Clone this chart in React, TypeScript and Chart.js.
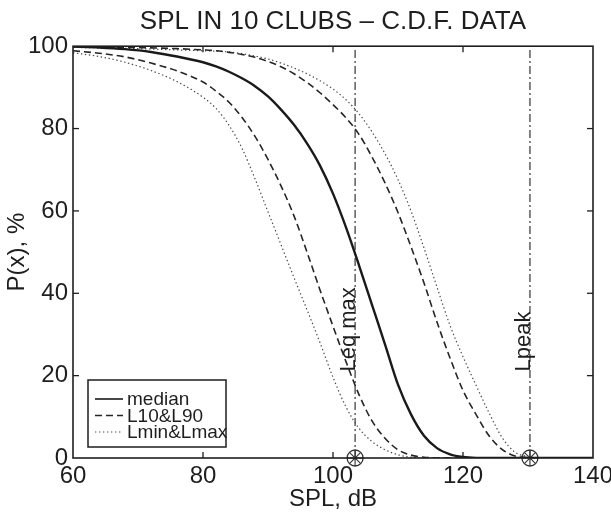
import React, { useEffect, useRef } from 'react';
import { Chart, registerables } from 'chart.js';

Chart.register(...registerables);

const FONT = '"Liberation Sans", Arial, Helvetica, sans-serif';
const INK = '#1e1e1e';

const titleText = 'SPL IN 10 CLUBS – C.D.F. DATA';
const xTitle = 'SPL, dB';
const yTitle = 'P(x), %';

// SPL grid, dB
const splGrid = [60, 64, 68, 72, 76, 80, 82, 84, 86, 88, 90, 92, 94, 96, 98, 100, 102, 104, 106, 108, 110, 112, 114, 116, 118, 120, 122, 124, 126, 128, 130, 132, 136, 140];

// P(x), % for each curve
const medianPct = [99.9, 99.7, 99.3, 98.6, 97.5, 96.1, 95.1, 93.8, 92.2, 90.3, 87.8, 84.6, 80.9, 76.4, 71.0, 64.2, 56.0, 46.8, 37.2, 27.6, 17.8, 10.6, 5.4, 2.4, 0.9, 0.25, 0.03, 0, 0, 0, 0, 0, 0, 0];
const l10Pct = [98.9, 98.3, 97.4, 95.9, 94.0, 91.3, 89.1, 86.4, 82.7, 78.1, 72.5, 66.1, 58.8, 50.0, 40.8, 32.0, 23.4, 15.4, 9.0, 4.8, 2.0, 0.7, 0.2, 0, 0, 0, 0, 0, 0, 0, 0, 0, 0, 0];
const l90Pct = [99.9, 99.8, 99.7, 99.6, 99.4, 99.1, 98.9, 98.5, 98.0, 97.3, 96.3, 95.0, 93.3, 91.2, 88.7, 85.8, 82.6, 78.6, 73.1, 66.8, 59.6, 51.3, 42.5, 33.0, 24.3, 16.4, 10.6, 5.4, 2.1, 0.5, 0.1, 0, 0, 0];
const lminPct = [98.4, 97.5, 96.1, 94.1, 91.4, 87.6, 84.9, 80.8, 75.2, 67.8, 59.8, 51.8, 43.8, 36.0, 28.0, 19.6, 12.4, 7.2, 4.0, 2.0, 0.8, 0.2, 0, 0, 0, 0, 0, 0, 0, 0, 0, 0, 0, 0];
const lmaxPct = [99.7, 99.6, 99.5, 99.3, 99.1, 98.9, 98.8, 98.6, 98.2, 97.6, 96.9, 95.9, 94.7, 93.3, 91.6, 89.6, 87.0, 83.6, 79.2, 73.9, 67.6, 60.0, 51.0, 41.5, 32.2, 24.6, 17.7, 11.0, 5.0, 1.4, 0.4, 0, 0, 0];

// reference levels
const refLineX = [103.4, 130.3];
const refLineLabels = ['Leq max', 'Lpeak'];
const refLabelStart = 21;
const refLineSpan = [0, 100];

const legendLabels = ['median', 'L10&L90', 'Lmin&Lmax'];

const xRange = [60, 140];
const yRange = [0, 100];
const xStep = 20;
const yStep = 20;

const toPts = (ys: number[]) => splGrid.map((x, i) => ({ x, y: ys[i] }));

const solidStyle = { borderColor: '#1a1a1a', borderWidth: 2.4, borderDash: [] as number[] };
const dashStyle = { borderColor: '#262626', borderWidth: 1.6, borderDash: [7, 4] };
const dotStyle = { borderColor: '#4a4a4a', borderWidth: 1.2, borderDash: [1.4, 2.6] };

const framePlugin = {
  id: 'frame',
  afterDatasetsDraw(chart: any) {
    const { ctx, chartArea: ca, scales } = chart;
    const xs = scales.x;
    const ys = scales.y;
    ctx.save();
    ctx.strokeStyle = INK;
    ctx.lineWidth = 1.6;
    ctx.setLineDash([]);
    ctx.strokeRect(ca.left, ca.top, ca.right - ca.left, ca.bottom - ca.top);
    const tl = 6;
    ctx.lineWidth = 1.3;
    const seg = (a: number, b: number, c: number, d: number) => {
      ctx.beginPath();
      ctx.moveTo(a, b);
      ctx.lineTo(c, d);
      ctx.stroke();
    };
    xs.ticks.forEach((t: any) => {
      if (t.value <= xs.min || t.value >= xs.max) return;
      const px = xs.getPixelForValue(t.value);
      seg(px, ca.bottom, px, ca.bottom - tl);
      seg(px, ca.top, px, ca.top + tl);
    });
    ys.ticks.forEach((t: any) => {
      if (t.value <= ys.min || t.value >= ys.max) return;
      const py = ys.getPixelForValue(t.value);
      seg(ca.left, py, ca.left + tl, py);
      seg(ca.right, py, ca.right - tl, py);
    });

    // rotated labels of reference lines
    ctx.fillStyle = INK;
    ctx.font = `22px ${FONT}`;
    ctx.textAlign = 'left';
    ctx.textBaseline = 'alphabetic';
    refLineX.forEach((v, i) => {
      const px = xs.getPixelForValue(v);
      const py = ys.getPixelForValue(refLabelStart);
      ctx.save();
      ctx.translate(px, py);
      ctx.rotate(-Math.PI / 2);
      ctx.fillText(refLineLabels[i], 0, 0);
      ctx.restore();
    });

    // legend
    const lx = ca.left + 15;
    const ly = ca.bottom - 78;
    const lw = 138;
    const lh = 67;
    ctx.fillStyle = '#ffffff';
    ctx.fillRect(lx, ly, lw, lh);
    ctx.lineWidth = 1.5;
    ctx.strokeStyle = INK;
    ctx.strokeRect(lx, ly, lw, lh);
    const styles = [solidStyle, dashStyle, dotStyle];
    ctx.font = `19px ${FONT}`;
    ctx.fillStyle = INK;
    legendLabels.forEach((lab, i) => {
      const base = ly + 25 + i * 16.5;
      const st = styles[i];
      ctx.strokeStyle = st.borderColor;
      ctx.lineWidth = Math.min(st.borderWidth, 1.6);
      ctx.setLineDash(st.borderDash);
      seg(lx + 7, base - 6, lx + 35, base - 6);
      ctx.setLineDash([]);
      ctx.fillText(lab, lx + 39, base);
    });
    ctx.restore();
  },
};

export default function App() {
  const ref = useRef<HTMLCanvasElement | null>(null);
  useEffect(() => {
    if (!ref.current) return;
    const curve = (label: string, ys: number[], st: any) => ({
      label,
      data: toPts(ys),
      showLine: true,
      pointRadius: 0,
      fill: false,
      cubicInterpolationMode: 'monotone' as const,
      ...st,
    });
    const refLine = (x: number, i: number) => ({
      label: refLineLabels[i],
      data: refLineSpan.map((y) => ({ x, y })),
      showLine: true,
      pointRadius: 0,
      borderColor: '#333333',
      borderWidth: 1.2,
      borderDash: [8, 3, 2, 3],
      tension: 0,
    });
    const chart = new Chart(ref.current, {
      type: 'scatter',
      data: {
        datasets: [
          curve('median', medianPct, solidStyle),
          curve('L10', l10Pct, dashStyle),
          curve('L90', l90Pct, dashStyle),
          curve('Lmin', lminPct, dotStyle),
          curve('Lmax', lmaxPct, dotStyle),
          ...refLineX.map(refLine),
          {
            label: 'markers-circle',
            data: refLineX.map((x) => ({ x, y: 0 })),
            pointStyle: 'circle',
            pointRadius: 8,
            borderColor: '#333333',
            backgroundColor: 'rgba(0,0,0,0)',
            borderWidth: 1.3,
            clip: false,
          },
          {
            label: 'markers-star',
            data: refLineX.map((x) => ({ x, y: 0 })),
            pointStyle: 'star',
            pointRadius: 8,
            borderColor: '#333333',
            backgroundColor: 'rgba(0,0,0,0)',
            borderWidth: 1.1,
            clip: false,
          },
        ] as any,
      },
      options: {
        animation: false,
        responsive: false,
        devicePixelRatio: 1,
        layout: { padding: { left: 0, right: 18, top: 0, bottom: 0 } },
        plugins: {
          legend: { display: false },
          tooltip: { enabled: false },
          title: {
            display: true,
            text: titleText,
            color: INK,
            font: { family: FONT, size: 26, weight: 'normal' },
            padding: { top: 6, bottom: 9 },
            fullSize: false,
          },
        },
        scales: {
          x: {
            type: 'linear',
            min: xRange[0],
            max: xRange[1],
            ticks: { stepSize: xStep, color: INK, font: { family: FONT, size: 24 }, padding: 4, maxRotation: 0, autoSkip: false },
            grid: { display: false, drawTicks: false },
            border: { display: false },
            title: { display: true, text: xTitle, color: INK, font: { family: FONT, size: 24 }, padding: { top: 0, bottom: 0 } },
            afterFit(s: any) {
              s.height = 56;
              s.paddingLeft = 0;
              s.paddingRight = 0;
            },
          },
          y: {
            type: 'linear',
            min: yRange[0],
            max: yRange[1],
            ticks: { stepSize: yStep, color: INK, font: { family: FONT, size: 24 }, padding: 5 },
            grid: { display: false, drawTicks: false },
            border: { display: false },
            title: { display: true, text: yTitle, color: INK, font: { family: FONT, size: 24 }, padding: { top: 3, bottom: 0 } },
            afterFit(s: any) {
              s.width = 73;
              s.paddingTop = 0;
              s.paddingBottom = 0;
            },
          },
        },
      } as any,
      plugins: [framePlugin],
    });
    return () => chart.destroy();
  }, []);
  return (
    <div style={{ position: 'fixed', left: 0, top: 0, width: 611, height: 514, background: '#ffffff' }}>
      <canvas ref={ref} width={611} height={514} style={{ display: 'block', width: 611, height: 514 }} />
    </div>
  );
}
